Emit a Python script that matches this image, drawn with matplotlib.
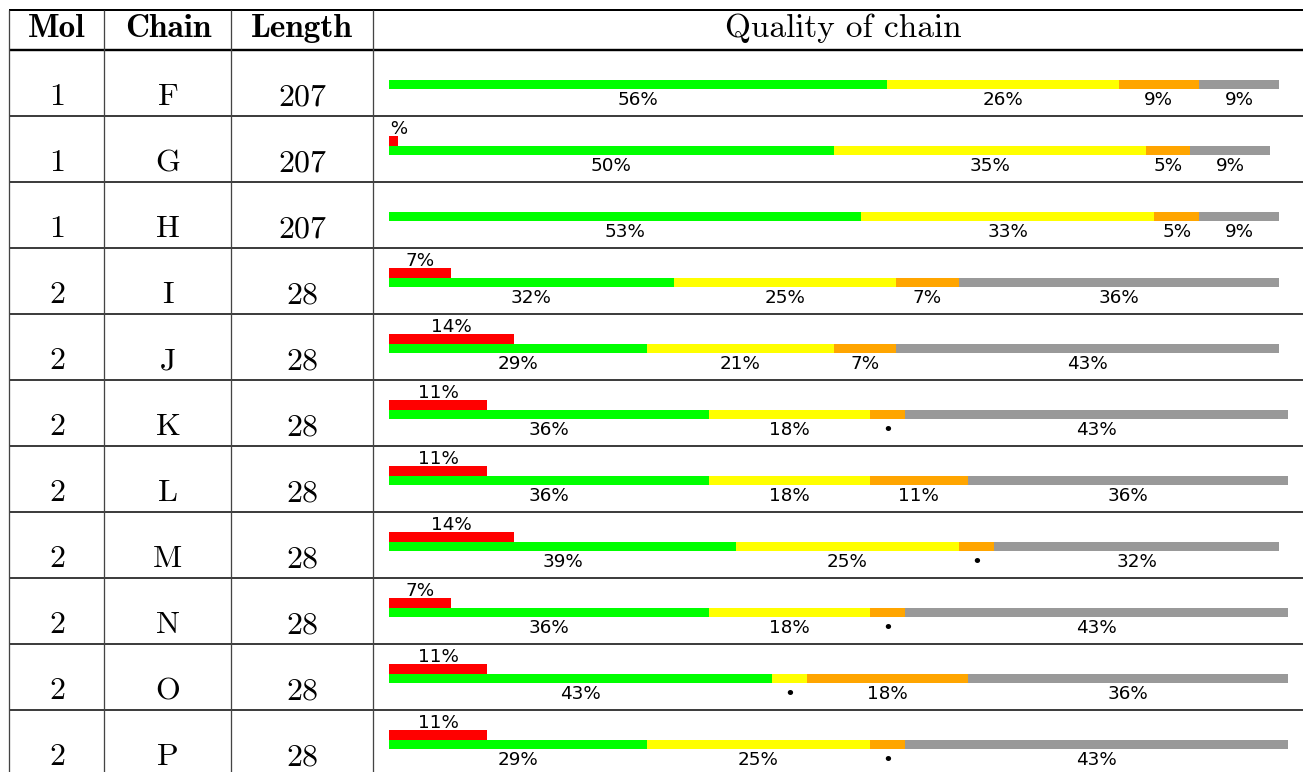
import matplotlib
matplotlib.use("Agg")
import matplotlib.pyplot as plt
import numpy as np

# ---- data ----
mol = [1, 1, 1, 2, 2, 2, 2, 2, 2, 2, 2]
chains = ["F", "G", "H", "I", "J", "K", "L", "M", "N", "O", "P"]
lengths = [207, 207, 207, 28, 28, 28, 28, 28, 28, 28, 28]
red = [0, 1, 0, 7, 14, 11, 11, 14, 7, 11, 11]
green = [56, 50, 53, 32, 29, 36, 36, 39, 36, 43, 29]
yellow = [26, 35, 33, 25, 21, 18, 18, 25, 18, 4, 25]
orange = [9, 5, 5, 7, 7, 4, 11, 4, 4, 18, 4]
gray = [9, 9, 9, 36, 43, 43, 36, 32, 43, 36, 43]
headers = ["Mol", "Chain", "Length", "Quality of chain"]

seg_colors = ["#00ff00", "#ffff00", "#ffa500", "#999999"]
red_color = "#ff0000"

W, H = 1303, 772
fig = plt.figure(figsize=(W / 100, H / 100), dpi=100)

# ---- table frame (pixel layout) ----
bg = fig.add_axes([0, 0, 1, 1])
bg.set_xlim(0, W)
bg.set_ylim(H, 0)
bg.axis("off")

px = 72 / 100  # points per pixel
left_x = 9
col_x = [left_x, 104, 231, 373]
head_top, head_bot = 10, 49.5
row_top0, row_h = 50, 66
n = len(chains)

bg.plot([left_x, W], [head_top, head_top], color="black", lw=2 * px, solid_capstyle="butt")
bg.plot([left_x, W], [head_bot, head_bot], color="black", lw=2.4 * px, solid_capstyle="butt")
for k in range(1, n + 1):
    y = row_top0 + k * row_h
    bg.plot([left_x, W], [y, y], color="black", lw=1.5 * px, solid_capstyle="butt")
for x in col_x:
    bg.plot([x, x], [head_top, H], color="#444444", lw=1.3 * px, solid_capstyle="butt")

centers = [57, 168, 302, 843.5]
for c, h in zip(centers[:3], headers[:3]):
    bg.text(c, 37, h, ha="center", va="baseline", fontsize=24, family="cmb10")
bg.text(centers[3], 37, headers[3], ha="center", va="baseline", fontsize=24, family="cmr10")

for i in range(n):
    base = row_top0 + i * row_h + 55
    bg.text(centers[0], base, str(mol[i]), ha="center", va="baseline", fontsize=23, family="cmr10")
    bg.text(centers[1], base, chains[i], ha="center", va="baseline", fontsize=23, family="cmr10")
    bg.text(centers[2], base, str(lengths[i]), ha="center", va="baseline", fontsize=23, family="cmr10")

# ---- bars: x in percent, y in row units ----
bar_left = 389
px_per_pct = 8.9
ax = fig.add_axes([bar_left / W, 0, (W - bar_left) / W, (H - row_top0) / H])
ax.set_xlim(0, (W - bar_left) / px_per_pct)
ax.set_ylim((H - row_top0) / row_h, 0)
ax.axis("off")

def seg_label(v):
    return "\u2022" if v < 5 else f"{v}%"

segs = [green, yellow, orange, gray]
for i in range(n):
    left = 0
    yc = i + 34.6 / row_h
    for vals, col in zip(segs, seg_colors):
        v = vals[i]
        ax.barh(yc, v, height=9.3 / row_h, left=left, color=col, linewidth=0)
        ax.text(left + v / 2, i + 55 / row_h, seg_label(v), ha="center", va="baseline",
                fontsize=13.2, family="DejaVu Sans", clip_on=True)
        left += v
    if red[i] > 0:
        ax.barh(i + 25 / row_h, red[i], height=10 / row_h, left=0, color=red_color, linewidth=0)
        ax.text(red[i] / 2, i + 17.5 / row_h, f"{red[i]}%", ha="center", va="baseline",
                fontsize=13.2, family="DejaVu Sans", clip_on=True)

fig.savefig("out.png", dpi=100)
